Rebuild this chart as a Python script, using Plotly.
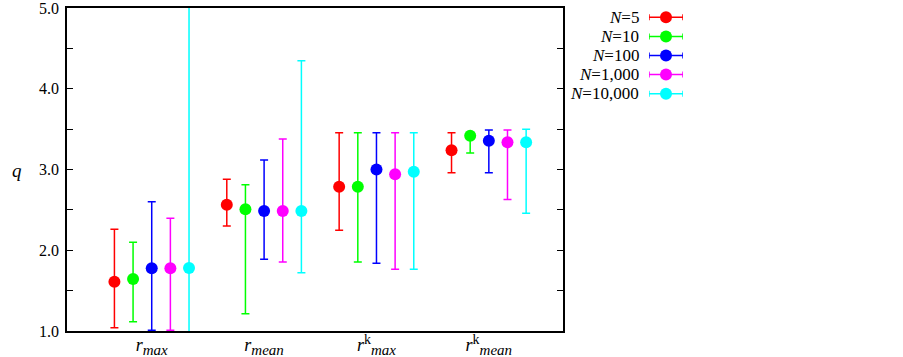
import numpy as np
import plotly.graph_objects as go

SUB = '<sub><span style="font-size:15px">{}</span></sub>'
SUP = '<sup><span style="font-size:14px">{}</span></sup>'
categories = ["<i>r</i>" + SUB.format("<i>max</i>"),
              "<i>r</i>" + SUB.format("<i>mean</i>"),
              "<i>r</i>" + SUP.format("k") + SUB.format("<i>max</i>"),
              "<i>r</i>" + SUP.format("k") + SUB.format("<i>mean</i>")]
series_names = ["<i>N</i>=5", "<i>N</i>=10", "<i>N</i>=100", "<i>N</i>=1,000", "<i>N</i>=10,000"]
colors = ["#ff0000", "#00ff00", "#0000ff", "#ff00ff", "#00ffff"]

q_n5 = [1.61, 2.564, 2.787, 3.238]
q_n5_hi = [2.26, 2.878, 3.456, 3.456]
q_n5_lo = [1.04, 2.30, 2.247, 2.96]

q_n10 = [1.644, 2.507, 2.787, 3.419]
q_n10_hi = [2.10, 2.81, 3.456, 3.456]
q_n10_lo = [1.115, 1.215, 1.855, 3.204]

q_n100 = [1.776, 2.486, 3.0, 3.357]
q_n100_hi = [2.60, 3.118, 3.456, 3.489]
q_n100_lo = [1.01, 1.89, 1.838, 2.96]

q_n1000 = [1.776, 2.486, 2.94, 3.337]
q_n1000_hi = [2.395, 3.378, 3.456, 3.489]
q_n1000_lo = [1.01, 1.855, 1.764, 2.63]

q_n10000 = [1.78, 2.486, 2.973, 3.337]
q_n10000_hi = [5.6, 4.347, 3.456, 3.497]
q_n10000_lo = [0.4, 1.72, 1.764, 2.457]

y_ticks = [1.0, 2.0, 3.0, 4.0, 5.0]

means = [q_n5, q_n10, q_n100, q_n1000, q_n10000]
highs = [q_n5_hi, q_n10_hi, q_n100_hi, q_n1000_hi, q_n10000_hi]
lows = [q_n5_lo, q_n10_lo, q_n100_lo, q_n1000_lo, q_n10000_lo]

W, H = 903, 357
L, R, T, B = 67, 563, 8, 331
paper_w = W - L
FONT = "Liberation Serif, Times New Roman, serif"

fig = go.Figure()
idx = np.arange(len(categories))
for i, (m, hi, lo, c) in enumerate(zip(means, highs, lows, colors)):
    m = np.array(m); hi = np.array(hi); lo = np.array(lo)
    fig.add_trace(go.Scatter(
        x=idx + (i - 2) * 0.166, y=m, mode="markers",
        marker=dict(color=c, size=12, line=dict(width=0)),
        error_y=dict(type="data", symmetric=False, array=hi - m, arrayminus=m - lo,
                     color=c, thickness=1.5, width=4),
        showlegend=False, xaxis="x", yaxis="y"))

# custom legend (key on the right of the label)
for i, (name, c) in enumerate(zip(series_names, colors)):
    fig.add_trace(go.Scatter(
        x=[0], y=[i], mode="markers",
        marker=dict(color=c, size=12, line=dict(width=0)),
        error_x=dict(type="data", array=[1], arrayminus=[1], color=c, thickness=1.5, width=3),
        showlegend=False, xaxis="x2", yaxis="y2", hoverinfo="skip"))
    fig.add_annotation(text=name, xref="paper", yref="y2", x=(641 - L) / paper_w, y=i,
                       xanchor="right", yanchor="middle", showarrow=False,
                       font=dict(family=FONT, size=17, color="black"))

fig.add_annotation(text="<i>q</i>", xref="paper", yref="paper", x=(17 - L) / paper_w,
                   y=(B - 170) / (B - T), xanchor="center", yanchor="middle", showarrow=False,
                   font=dict(family=FONT, size=19, color="black"))

fig.update_layout(
    width=W, height=H, autosize=False,
    margin=dict(l=L, r=0, t=T, b=H - B, pad=0, autoexpand=False),
    paper_bgcolor="white", plot_bgcolor="rgba(0,0,0,0)",
    xaxis=dict(domain=[0, (R - L) / paper_w], range=[-0.754, 3.66],
               tickvals=list(idx), ticktext=categories, ticks="", ticklen=0,
               automargin=False, ticklabelstandoff=-3, ticklabeloverflow="allow",
               showgrid=False, zeroline=False, showline=True, linecolor="black",
               linewidth=1.5, mirror=True,
               tickfont=dict(family=FONT, size=18, color="black")),
    yaxis=dict(range=[1.0, 5.0], tickvals=y_ticks, tickformat=".1f",
               ticks="inside", ticklen=6, tickwidth=1.2, tickcolor="black",
               automargin=False, ticklabeloverflow="allow", ticklabelstandoff=3,
               minor=dict(dtick=0.5, ticks="inside", ticklen=6, tickwidth=1.2, tickcolor="black"),
               showgrid=False, zeroline=False, showline=True, linecolor="black",
               linewidth=1.5, mirror="ticks",
               tickfont=dict(family=FONT, size=16, color="black")),
    xaxis2=dict(domain=[(649 - L) / paper_w, (683 - L) / paper_w], range=[-1, 1],
                visible=False, anchor="y2", fixedrange=True, automargin=False),
    yaxis2=dict(domain=[(B - 103) / (B - T), 1.0], range=[4.49, -0.49],
                visible=False, anchor="x2", fixedrange=True, automargin=False),
)

fig.write_html("out.html", config={"displayModeBar": False},
               post_script="document.body.style.margin='0';document.body.style.padding='0';")
